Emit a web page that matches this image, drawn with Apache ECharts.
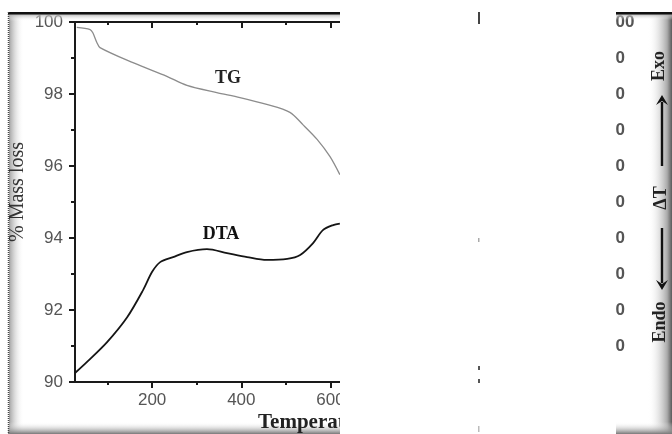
<!DOCTYPE html>
<html>
<head>
<meta charset="utf-8">
<script src="https://cdn.jsdelivr.net/npm/echarts@6/dist/echarts.min.js"></script>
<style>
  html, body { margin: 0; padding: 0; background: #fff; }
  #chart { width: 672px; height: 434px; }
</style>
</head>
<body>
<div id="chart"></div>
<script>
// TG curve (% mass, left axis)
const tgTemp = [31, 61, 67, 76, 83, 157, 233, 278, 345, 397, 457, 509, 538, 570, 599, 621];
const tgMass = [99.85, 99.79, 99.7, 99.43, 99.29, 98.87, 98.49, 98.24, 98.04, 97.9, 97.71, 97.49, 97.15, 96.74, 96.26, 95.76];

// DTA curve (right axis)
const dtaTemp = [27, 54, 99, 144, 180, 200, 218, 247, 278, 323, 368, 413, 457, 503, 532, 561, 583, 606, 621];
const dtaVal = [2.5, 5.6, 11.1, 18, 25.6, 30.6, 33.3, 34.7, 36.1, 36.9, 35.8, 34.7, 33.9, 34.2, 35.3, 38.6, 42.2, 43.6, 44];

const xMajor = [200, 400, 600, 800, 1000];
const xMinor = [100, 300, 500, 700, 900, 1100];

const chart = echarts.init(document.getElementById('chart'));

const axisCol = '#1a1a1a';
const labelStyle = { fontFamily: 'Liberation Sans', fontSize: 17, color: '#555' };

function xAx(pos, ticks, len, inside, withLine, withLabel) {
  return {
    type: 'value', position: pos, min: 27, max: 1200,
    axisLine: { show: withLine, onZero: false, lineStyle: { color: axisCol, width: 2 } },
    axisTick: { show: true, inside: inside, length: len, customValues: ticks, lineStyle: { color: axisCol, width: 2 } },
    axisLabel: withLabel ? Object.assign({ customValues: ticks, margin: 10 }, labelStyle) : { show: false },
    splitLine: { show: false }
  };
}

const grad = (x2, y2, c0, c1) =>
  new echarts.graphic.LinearGradient(0, 0, x2, y2, [{ offset: 0, color: c0 }, { offset: 1, color: c1 }]);

const option = {
  animation: false,
  backgroundColor: '#fff',
  grid: { left: 75, right: 74, top: 22, bottom: 52 },
  xAxis: [
    xAx('bottom', xMajor, 6, false, true, true),
    xAx('bottom', xMinor, 3, false, false, false),
    xAx('top', xMajor, 6, true, true, false),
    xAx('top', xMinor, 3, true, false, false)
  ],
  yAxis: [
    {
      type: 'value', position: 'left', min: 90, max: 100, interval: 2,
      axisLine: { show: true, lineStyle: { color: axisCol, width: 2 } },
      axisTick: { show: true, length: 6, lineStyle: { color: axisCol, width: 2 } },
      minorTick: { show: true, splitNumber: 2, length: 4, lineStyle: { color: axisCol, width: 2 } },
      axisLabel: Object.assign({ margin: 12 }, labelStyle),
      splitLine: { show: false }
    },
    {
      type: 'value', position: 'right', min: 0, max: 100, interval: 10,
      axisLine: { show: true, lineStyle: { color: axisCol, width: 2 } },
      axisTick: { show: true, length: 6 },
      axisLabel: Object.assign({ margin: 8, fontWeight: 'bold' }, labelStyle),
      splitLine: { show: false }
    }
  ],
  series: [
    {
      name: 'TG', type: 'line', xAxisIndex: 0, yAxisIndex: 0,
      data: tgTemp.map((t, i) => [t, tgMass[i]]),
      showSymbol: false, smooth: 0.3,
      lineStyle: { color: '#8c8c8c', width: 1.3 }
    },
    {
      name: 'DTA', type: 'line', xAxisIndex: 0, yAxisIndex: 1,
      data: dtaTemp.map((t, i) => [t, dtaVal[i]]),
      showSymbol: false, smooth: 0.3,
      lineStyle: { color: '#151515', width: 1.8 }
    }
  ],
  graphic: [
    // left panel frame (under the axis title text)
    { type: 'rect', z: 96, shape: { x: 9, y: 12, width: 15, height: 422 }, style: { fill: grad(1, 0, 'rgba(150,150,150,0.9)', 'rgba(255,255,255,0)') } },
    { type: 'rect', z: 96, shape: { x: 8, y: 14, width: 332, height: 7 }, style: { fill: grad(0, 1, 'rgba(170,170,170,0.9)', 'rgba(255,255,255,0)') } },
    { type: 'rect', z: 96, shape: { x: 8, y: 422, width: 332, height: 12 }, style: { fill: grad(0, 1, 'rgba(255,255,255,0)', 'rgba(120,120,120,1)') } },
    { type: 'rect', z: 97, shape: { x: 8, y: 12, width: 332, height: 2.5 }, style: { fill: '#111' } },
    { type: 'line', z: 97, shape: { x1: 8.5, y1: 12, x2: 8.5, y2: 434 }, style: { stroke: '#444', lineWidth: 1.5, lineDash: [1, 1] } },

    // curve names and axis titles (cut by the blank middle)
    { type: 'text', z: 99, x: 228, y: 78, style: { text: 'TG', font: 'bold 18px "Liberation Serif"', fill: '#222', align: 'center', verticalAlign: 'middle' } },
    { type: 'text', z: 99, x: 221, y: 234, style: { text: 'DTA', font: 'bold 18px "Liberation Serif"', fill: '#111', align: 'center', verticalAlign: 'middle' } },
    { type: 'text', z: 99, x: 18, y: 192, rotation: Math.PI / 2, style: { text: '% Mass loss', font: '20px "Liberation Serif"', fill: '#333', align: 'center', verticalAlign: 'middle' } },
    { type: 'text', z: 99, x: 258, y: 423, style: { text: 'Temperature (\u00b0C)', font: 'bold 21px "Liberation Serif"', fill: '#222', align: 'left', verticalAlign: 'middle' } },

    // blank middle of the picture
    { type: 'rect', z: 100, shape: { x: 340, y: 0, width: 276, height: 434 }, style: { fill: '#fff' } },
    // scan artefacts in the gap
    { type: 'rect', z: 101, shape: { x: 478, y: 12, width: 2, height: 12 }, style: { fill: '#444' } },
    { type: 'rect', z: 101, shape: { x: 478, y: 238, width: 1.5, height: 4 }, style: { fill: '#aaa' } },
    { type: 'rect', z: 101, shape: { x: 478, y: 366, width: 2, height: 4 }, style: { fill: '#555' } },
    { type: 'rect', z: 101, shape: { x: 478, y: 379, width: 2, height: 4 }, style: { fill: '#555' } },
    { type: 'rect', z: 101, shape: { x: 478, y: 426, width: 1.5, height: 6 }, style: { fill: '#bbb' } },

    // right strip frame
    { type: 'rect', z: 102, shape: { x: 648, y: 12, width: 24, height: 422 },
      style: { fill: new echarts.graphic.LinearGradient(0, 0, 1, 0, [{ offset: 0, color: 'rgba(255,255,255,0)' }, { offset: 0.8, color: 'rgba(170,170,170,1)' }, { offset: 1, color: 'rgba(90,90,90,1)' }]) } },
    { type: 'rect', z: 102, shape: { x: 616, y: 14, width: 56, height: 6 }, style: { fill: grad(0, 1, 'rgba(170,170,170,0.9)', 'rgba(255,255,255,0)') } },
    { type: 'rect', z: 102, shape: { x: 616, y: 422, width: 56, height: 12 }, style: { fill: grad(0, 1, 'rgba(255,255,255,0)', 'rgba(120,120,120,1)') } },
    { type: 'rect', z: 103, shape: { x: 616, y: 12, width: 56, height: 2.5 }, style: { fill: '#111' } },

    // Endo <- ΔT -> Exo
    { type: 'text', z: 104, x: 659, y: 66, rotation: Math.PI / 2, style: { text: 'Exo', font: 'bold 18px "Liberation Serif"', fill: '#222', align: 'center', verticalAlign: 'middle' } },
    { type: 'text', z: 104, x: 661, y: 198, rotation: Math.PI / 2, style: { text: '\u0394T', font: 'bold 18px "Liberation Serif"', fill: '#222', align: 'center', verticalAlign: 'middle' } },
    { type: 'text', z: 104, x: 660, y: 322, rotation: Math.PI / 2, style: { text: 'Endo', font: 'bold 18px "Liberation Serif"', fill: '#222', align: 'center', verticalAlign: 'middle' } },
    { type: 'line', z: 104, shape: { x1: 662, y1: 166, x2: 662, y2: 102 }, style: { stroke: '#111', lineWidth: 2.4 } },
    { type: 'polygon', z: 104, shape: { points: [[662, 95], [656, 105], [662, 101], [668, 105]] }, style: { fill: '#111' } },
    { type: 'line', z: 104, shape: { x1: 662, y1: 228, x2: 662, y2: 283 }, style: { stroke: '#111', lineWidth: 2.4 } },
    { type: 'polygon', z: 104, shape: { points: [[662, 290], [656, 280], [662, 284], [668, 280]] }, style: { fill: '#111' } }
  ]
};

chart.setOption(option);
</script>
</body>
</html>
